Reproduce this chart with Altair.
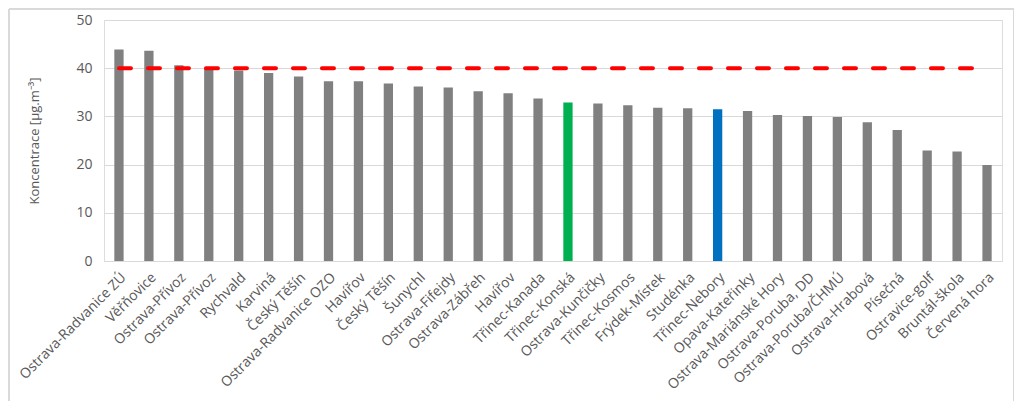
import json
import altair as alt
import pandas as pd

stations = [
    "Ostrava-Radvanice ZÚ", "Věřňovice", "Ostrava-Přívoz", "Ostrava-Přívoz", "Rychvald",
    "Karviná", "Český Těšín", "Ostrava-Radvanice OZO", "Havířov", "Český Těšín",
    "Šunychl", "Ostrava-Fifejdy", "Ostrava-Zábřeh", "Havířov", "Třinec-Kanada",
    "Třinec-Konská", "Ostrava-Kunčičky", "Třinec-Kosmos", "Frýdek-Místek", "Studénka",
    "Třinec-Nebory", "Opava-Kateřinky", "Ostrava-Mariánské Hory", "Ostrava-Poruba, DD",
    "Ostrava-Poruba/ČHMÚ", "Ostrava-Hrabová", "Písečná", "Ostravice-golf",
    "Bruntál-škola", "Červená hora",
]
values = [
    43.9, 43.6, 40.6, 40.0, 39.5, 39.0, 38.3, 37.3, 37.3, 36.8,
    36.2, 36.0, 35.2, 34.8, 33.7, 32.9, 32.7, 32.3, 31.8, 31.7,
    31.5, 31.1, 30.3, 30.1, 29.9, 28.8, 27.2, 22.9, 22.7, 19.9,
]
limit_value = 40
highlight = {"Třinec-Konská": "green", "Třinec-Nebory": "blue"}

df = pd.DataFrame({
    "idx": list(range(len(stations))),
    "station": stations,
    "value": values,
    "group": [highlight.get(s, "grey") for s in stations],
})

label_expr = json.dumps(stations, ensure_ascii=False) + "[datum.value]"

xscale = alt.Scale(paddingInner=0.69, paddingOuter=0.345)
x_enc = alt.X("idx:O", scale=xscale, sort=None, title=None,
              axis=alt.Axis(labelExpr=label_expr, labelAngle=-45, labelAlign="right",
                            labelBaseline="middle", labelPadding=14, labelOffset=5,
                            ticks=False,
                            domainColor="#d9d9d9", labelColor="#595959",
                            labelFontSize=14, labelFont="Open Sans", labelOverlap=False))

bars = alt.Chart(df).mark_bar().encode(
    x=x_enc,
    y=alt.Y("value:Q", scale=alt.Scale(domain=[0, 50]), title="Koncentrace [µg.m⁻³]",
            axis=alt.Axis(values=[0, 10, 20, 30, 40, 50], ticks=False, domain=False,
                          gridColor="#d9d9d9", labelColor="#595959", labelFontSize=14,
                          labelFont="Open Sans", labelPadding=12,
                          titleColor="#595959", titleFontSize=13, titleFont="Open Sans",
                          titleFontWeight="normal", titlePadding=34)),
    color=alt.Color("group:N", legend=None,
                    scale=alt.Scale(domain=["grey", "green", "blue"],
                                    range=["#808080", "#00B050", "#0070C0"])),
)

limit = alt.Chart(df).mark_line(color="#FF0000", strokeWidth=4, strokeDash=[12, 17],
                                strokeCap="round").encode(
    x=alt.X("idx:O", scale=xscale, sort=None),
    y=alt.datum(limit_value),
)

frame = alt.Chart(df).mark_rect(fill=None, stroke="#d9d9d9", strokeWidth=1).encode(
    x=alt.value(-95), x2=alt.value(910), y=alt.value(-11), y2=alt.value(386),
)

chart = alt.layer(bars, limit, frame).properties(
    width=898, height=241,
    autosize=alt.AutoSizeParams(type="none"),
    padding={"left": 96, "top": 12, "right": 12, "bottom": 140},
).configure_view(stroke=None).configure(background="white")

chart.save("out.html", embed_options={"renderer": "svg", "actions": False})
